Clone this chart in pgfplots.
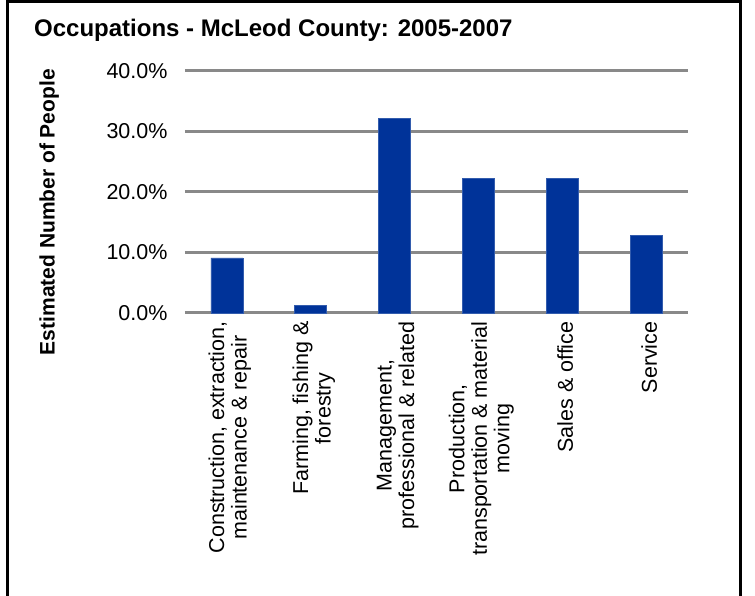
\documentclass[border=0pt]{standalone}
\usepackage{pgfplots}
\pgfplotsset{compat=1.18}
\usepackage{fontspec}
\setmainfont{Liberation Sans}
\definecolor{barblue}{RGB}{0,51,153}
\definecolor{gridgray}{RGB}{137,137,137}
\begin{document}
\begin{tikzpicture}
\useasboundingbox (0pt,0pt) rectangle (755pt,596pt);
\fill[white] (0pt,0pt) rectangle (755pt,596pt);
\draw[line width=3pt,black] (7pt,-5pt) -- (7pt,594pt) -- (740pt,594pt) -- (740pt,-5pt);
\node[anchor=west,inner sep=0pt,font=\fontsize{24}{27}\selectfont\bfseries] at (34pt,566pt) {Occupations - McLeod County: 2005-2007};
\begin{axis}[
  at={(185pt,283pt)}, anchor=south west,
  scale only axis, width=503pt, height=242pt,
  xmin=-0.5, xmax=5.5, ymin=0, ymax=40,
  ytick={0,10,20,30,40},
  yticklabel={\pgfmathprintnumber[fixed,fixed zerofill,precision=1]{\tick}\%},
  /pgf/number format/assume math mode=true,
  xtick={0,1,2,3,4,5},
  xticklabels={{Construction, extraction,\\maintenance \& repair},{Farming, fishing \&\\forestry},{Management,\\professional \& related},{Production,\\transportation \& material\\moving},{Sales \& office},{Service}},
  xticklabel style={rotate=90, anchor=east, align=center, font=\fontsize{21.5}{22.5}\selectfont, xshift=-5pt, yshift=-3pt},
  yticklabel style={font=\fontsize{21.5}{22}\selectfont, xshift=-14pt},
  axis line style={draw=none},
  tick style={draw=none},
  ymajorgrids,
  major grid style={gridgray, line width=3pt},
  ylabel={Estimated Number of People},
  ylabel style={at={(axis description cs:-0.27,0.417)}, anchor=center, font=\fontsize{21}{24}\selectfont\bfseries},
  clip=false,
]
\addplot[ybar, bar width=32pt, fill=barblue, draw=barblue!80!white, line width=0.6pt] coordinates {
  (0,9.1) (1,1.2) (2,32.1) (3,22.2) (4,22.2) (5,12.8)
};
\end{axis}
\end{tikzpicture}
\end{document}
